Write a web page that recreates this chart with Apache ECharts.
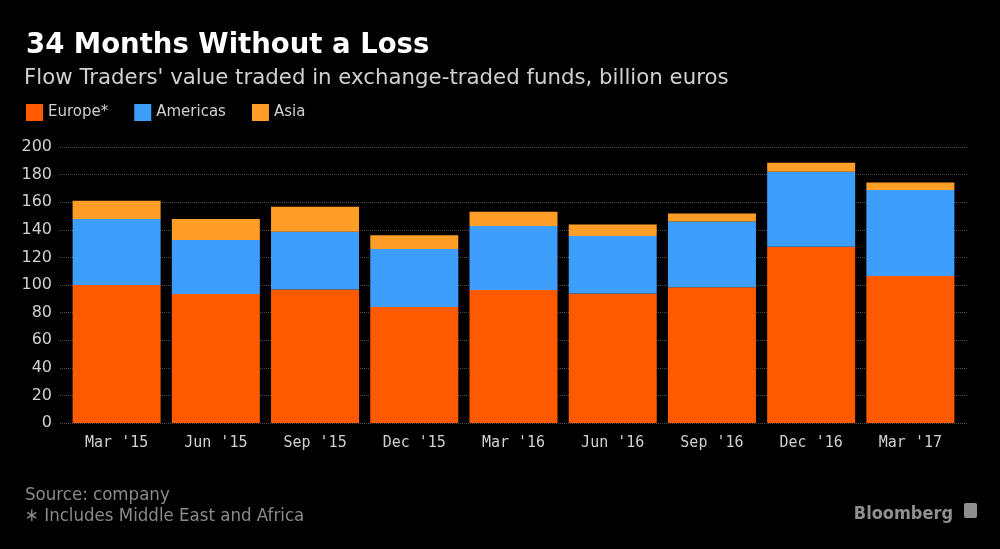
<!DOCTYPE html>
<html>
<head>
<meta charset="utf-8">
<script src="https://cdn.jsdelivr.net/npm/echarts@6/dist/echarts.min.js"></script>
<style>
html,body{margin:0;padding:0;background:#000;}
#chart{width:1000px;height:549px;}
</style>
</head>
<body>
<div id="chart"></div>
<script>
const categories = ["Mar '15", "Jun '15", "Sep '15", "Dec '15", "Mar '16", "Jun '16", "Sep '16", "Dec '16", "Mar '17"];
const europe   = [100, 93.5, 96.8, 84, 96.4, 93.9, 98.3, 127.8, 106.5];
const americas = [47.8, 39.1, 41.8, 42, 46.3, 41.6, 47.8, 54.3, 62.3];
const asia     = [13.2, 15.2, 18.1, 10, 10.4, 8.4, 5.8, 6.5, 5.5];
const yTicks = [0, 20, 40, 60, 80, 100, 120, 140, 160, 180, 200];

const chart = echarts.init(document.getElementById('chart'), null, {renderer: 'canvas'});
const sans = "'DejaVu Sans', sans-serif";
const cond = "'DejaVu Sans Condensed', 'DejaVu Sans', sans-serif";
const mono = "'DejaVu Sans Mono', monospace";

chart.setOption({
  backgroundColor: '#000',
  animation: false,
  title: [
    {text: '34 Months Without a Loss', left: 21, top: 27,
     textStyle: {color: '#fff', fontFamily: sans, fontWeight: 'bold', fontSize: 27.5}},
    {text: "Flow Traders' value traded in exchange-traded funds, billion euros", left: 19, top: 63,
     textStyle: {color: '#d0d0d0', fontFamily: sans, fontWeight: 'normal', fontSize: 21.3}},
    {text: 'Source: company', left: 20, top: 481,
     textStyle: {color: '#8a8a8a', fontFamily: cond, fontWeight: 'normal', fontSize: 18.5}},
    {text: '\u2217 Includes Middle East and Africa', left: 20, top: 502,
     textStyle: {color: '#8a8a8a', fontFamily: cond, fontWeight: 'normal', fontSize: 18.5}},
    {text: 'Bloomberg', right: 42, top: 500,
     textStyle: {color: '#8f8f8f', fontFamily: cond, fontWeight: 'bold', fontSize: 18}}
  ],
  graphic: [
    {type: 'rect', right: 23, top: 503, shape: {width: 13, height: 15, r: 2}, style: {fill: '#8f8f8f'}}
  ],
  legend: {
    left: 21, top: 99, itemWidth: 17, itemHeight: 17, itemGap: 26, icon: 'rect',
    textStyle: {color: '#d0d0d0', fontFamily: sans, fontSize: 15},
    data: ['Europe*', 'Americas', 'Asia']
  },
  grid: [
    {left: 60, right: 33, top: 147, bottom: 126},
    {left: 67, right: 40, top: 147, bottom: 126}
  ],
  xAxis: [
    {type: 'category', gridIndex: 0, data: categories, show: false},
    {type: 'category', gridIndex: 1, data: categories,
     axisLine: {show: false}, axisTick: {show: false},
     axisLabel: {color: '#d0d0d0', fontFamily: mono, fontSize: 15, margin: 13}}
  ],
  yAxis: [
    {type: 'value', gridIndex: 0, min: 0, max: 200, interval: 20,
     axisLine: {show: false}, axisTick: {show: false},
     axisLabel: {color: '#d0d0d0', fontFamily: sans, fontSize: 16, margin: 8},
     splitLine: {show: true, lineStyle: {color: '#4a4a4a', type: 'dotted', width: 1}}},
    {type: 'value', gridIndex: 1, min: 0, max: 200, interval: 20, show: false,
     splitLine: {show: false}}
  ],
  series: [
    {name: 'Europe*', type: 'bar', stack: 'a', xAxisIndex: 1, yAxisIndex: 1, data: europe,
     barWidth: 88, itemStyle: {color: '#ff5a00'}},
    {name: 'Americas', type: 'bar', stack: 'a', xAxisIndex: 1, yAxisIndex: 1, data: americas,
     barWidth: 88, itemStyle: {color: '#3d9efc'}},
    {name: 'Asia', type: 'bar', stack: 'a', xAxisIndex: 1, yAxisIndex: 1, data: asia,
     barWidth: 88, itemStyle: {color: '#ff9e27'}}
  ]
});
</script>
</body>
</html>
